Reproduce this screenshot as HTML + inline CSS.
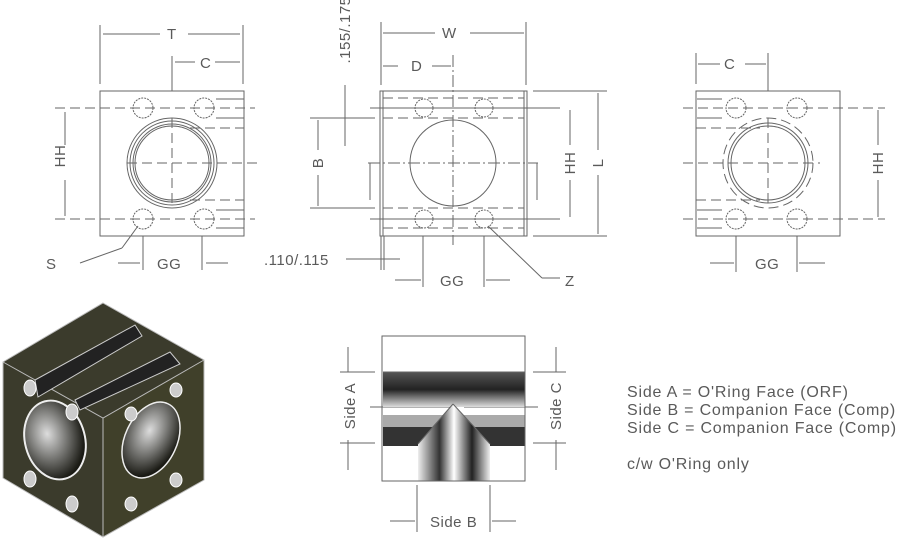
<!DOCTYPE html>
<html><head><meta charset="utf-8"><style>
html,body{margin:0;padding:0;background:#fff;}
svg{display:block;}
text{font-family:"Liberation Sans",sans-serif;fill:#5a5a5a;font-size:15px;letter-spacing:0.5px;}
.n{font-size:16px;letter-spacing:0.8px;}
</style></head><body>
<svg width="897" height="543" viewBox="0 0 897 543" xmlns="http://www.w3.org/2000/svg">
<defs>
<linearGradient id="band" x1="0" y1="0" x2="0" y2="1">
<stop offset="0" stop-color="#555"/><stop offset="0.5" stop-color="#222"/><stop offset="1" stop-color="#ddd"/></linearGradient>
<linearGradient id="vb" x1="0" y1="0" x2="1" y2="0">
<stop offset="0" stop-color="#eee"/><stop offset="0.3" stop-color="#333"/><stop offset="0.5" stop-color="#fff"/><stop offset="0.75" stop-color="#222"/><stop offset="1" stop-color="#eee"/></linearGradient>
<radialGradient id="bore" cx="0.4" cy="0.4" r="0.6"><stop offset="0" stop-color="#ddd"/><stop offset="1" stop-color="#1a1a14"/></radialGradient>
</defs>
<g stroke="#666" stroke-width="1" fill="none">
<rect x="100" y="91" width="144" height="145"/>
<line x1="100" y1="25" x2="100" y2="84"/><line x1="243" y1="25" x2="243" y2="84"/>
<line x1="103" y1="34" x2="160" y2="34"/><line x1="188" y1="34" x2="240" y2="34"/>
<line x1="172" y1="56" x2="172" y2="91"/><line x1="175" y1="62" x2="195" y2="62"/><line x1="215" y1="62" x2="240" y2="62"/>
<g stroke-dasharray="10,5"><line x1="55" y1="108" x2="255" y2="108"/><line x1="55" y1="219" x2="255" y2="219"/><line x1="127" y1="163" x2="258" y2="163"/><line x1="172" y1="118" x2="172" y2="205"/>
<line x1="190" y1="128" x2="244" y2="128"/><line x1="190" y1="200" x2="244" y2="200"/></g>
<circle cx="172" cy="163" r="45"/><circle cx="172" cy="163" r="42"/><circle cx="172" cy="163" r="39"/><circle cx="172" cy="163" r="37"/>
<circle cx="143" cy="108" r="10" stroke-dasharray="2,1"/><circle cx="204" cy="108" r="10" stroke-dasharray="2,1"/><circle cx="143" cy="219" r="10" stroke-dasharray="2,1"/><circle cx="204" cy="219" r="10" stroke-dasharray="2,1"/>
<path d="M216 99H244M216 118H244M216 210H244M216 228H244"/>
<line x1="65" y1="112" x2="65" y2="145"/><line x1="65" y1="180" x2="65" y2="216"/>
<line x1="80" y1="263" x2="122" y2="248"/><line x1="122" y1="248" x2="138" y2="226"/>
<line x1="143" y1="236" x2="143" y2="270"/><line x1="202" y1="236" x2="202" y2="270"/>
<line x1="118" y1="263" x2="140" y2="263"/><line x1="206" y1="263" x2="228" y2="263"/>
<rect x="380" y="91" width="147" height="145"/><rect x="383" y="91" width="141" height="145"/>
<line x1="381" y1="22" x2="381" y2="85"/><line x1="526" y1="22" x2="526" y2="85"/>
<line x1="383" y1="33" x2="435" y2="33"/><line x1="470" y1="33" x2="524" y2="33"/>
<line x1="383" y1="66" x2="398" y2="66"/><line x1="432" y1="66" x2="451" y2="66"/>
<g stroke-dasharray="10,5"><path d="M383 98H524M383 118H524M383 208H524M383 228H524"/></g>
<g stroke-dasharray="12,3,2,3"><line x1="453" y1="55" x2="453" y2="245"/><line x1="368" y1="163" x2="538" y2="163"/></g>
<line x1="370" y1="108" x2="560" y2="108"/><line x1="370" y1="219" x2="560" y2="219"/>
<circle cx="453" cy="163" r="43"/>
<circle cx="424" cy="108" r="9" stroke-dasharray="2,1"/><circle cx="484" cy="108" r="9" stroke-dasharray="2,1"/><circle cx="424" cy="219" r="9" stroke-dasharray="2,1"/><circle cx="484" cy="219" r="9" stroke-dasharray="2,1"/>
<line x1="370" y1="163" x2="370" y2="200"/><line x1="537" y1="163" x2="537" y2="200"/>
<line x1="310" y1="118" x2="375" y2="118"/><line x1="310" y1="208" x2="375" y2="208"/>
<line x1="318" y1="120" x2="318" y2="150"/><line x1="318" y1="175" x2="318" y2="206"/>
<line x1="345" y1="85" x2="345" y2="146"/>
<line x1="533" y1="91" x2="607" y2="91"/><line x1="533" y1="236" x2="607" y2="236"/>
<line x1="570" y1="110" x2="570" y2="145"/><line x1="570" y1="180" x2="570" y2="217"/>
<line x1="598" y1="93" x2="598" y2="150"/><line x1="598" y1="175" x2="598" y2="234"/>
<line x1="381" y1="236" x2="381" y2="270"/><line x1="384" y1="236" x2="384" y2="270"/>
<line x1="346" y1="259" x2="400" y2="259"/>
<line x1="423" y1="236" x2="423" y2="287"/><line x1="484" y1="236" x2="484" y2="287"/>
<line x1="395" y1="280" x2="421" y2="280"/><line x1="486" y1="280" x2="510" y2="280"/>
<line x1="488" y1="226" x2="542" y2="278"/><line x1="542" y1="278" x2="560" y2="278"/>
<rect x="696" y="91" width="144" height="145"/>
<line x1="696" y1="53" x2="696" y2="84"/><line x1="768" y1="53" x2="768" y2="91"/>
<line x1="698" y1="64" x2="720" y2="64"/><line x1="745" y1="64" x2="766" y2="64"/>
<g stroke-dasharray="10,5"><line x1="683" y1="108" x2="885" y2="108"/><line x1="683" y1="219" x2="885" y2="219"/><line x1="683" y1="163" x2="820" y2="163"/><line x1="768" y1="118" x2="768" y2="205"/>
<line x1="696" y1="128" x2="760" y2="128"/><line x1="696" y1="200" x2="760" y2="200"/><circle cx="768" cy="163" r="45"/></g>
<circle cx="768" cy="163" r="40"/><circle cx="768" cy="163" r="37"/>
<circle cx="736" cy="108" r="10" stroke-dasharray="2,1"/><circle cx="797" cy="108" r="10" stroke-dasharray="2,1"/><circle cx="736" cy="219" r="10" stroke-dasharray="2,1"/><circle cx="797" cy="219" r="10" stroke-dasharray="2,1"/>
<path d="M697 99H722M697 118H722M697 210H722M697 228H722"/>
<line x1="878" y1="110" x2="878" y2="145"/><line x1="878" y1="180" x2="878" y2="217"/>
<line x1="736" y1="236" x2="736" y2="272"/><line x1="797" y1="236" x2="797" y2="272"/>
<line x1="710" y1="263" x2="734" y2="263"/><line x1="799" y1="263" x2="825" y2="263"/>
<line x1="348" y1="347" x2="348" y2="372"/><line x1="348" y1="440" x2="348" y2="470"/>
<line x1="340" y1="372" x2="375" y2="372"/><line x1="340" y1="443" x2="375" y2="443"/>
<line x1="556" y1="347" x2="556" y2="372"/><line x1="556" y1="440" x2="556" y2="470"/>
<line x1="533" y1="372" x2="566" y2="372"/><line x1="533" y1="443" x2="566" y2="443"/>
<line x1="370" y1="407" x2="450" y2="407"/><line x1="464" y1="407" x2="538" y2="407"/>
<line x1="417" y1="485" x2="417" y2="532"/><line x1="490" y1="485" x2="490" y2="532"/>
<line x1="390" y1="521" x2="415" y2="521"/><line x1="492" y1="521" x2="516" y2="521"/>
</g>
<rect x="383" y="372" width="142" height="35" fill="url(#band)"/>
<rect x="383" y="427" width="142" height="19" fill="#333"/>
<rect x="383" y="415" width="142" height="12" fill="#aaa"/>
<polygon points="453,404 418,444 418,481 490,481 490,444" fill="url(#vb)"/>
<rect x="383" y="446" width="35" height="35" fill="#fff"/><rect x="490" y="446" width="35" height="35" fill="#fff"/>
<g stroke="#666" fill="none"><rect x="382" y="336" width="143" height="145"/><line x1="383" y1="372" x2="525" y2="372"/><line x1="453" y1="404" x2="418" y2="444"/><line x1="453" y1="404" x2="490" y2="444"/></g>
<polygon points="103,303 204,360 204,480 103,537 3,478 3,362" fill="#3b3b2c"/>
<polygon points="103,418 204,360 204,480 103,537" fill="#40402a"/>
<g stroke="#bbb" fill="none" stroke-width="1"><path d="M103,303 204,360 204,480 103,537 3,478 3,362Z M3,362 103,418 204,360 M103,418 103,537"/></g>
<g fill="#222" stroke="#ccc"><path d="M35,380 L135,325 L142,336 L38,397Z"/><path d="M75,400 L170,352 L180,364 L80,410Z"/></g>
<ellipse cx="55" cy="440" rx="30" ry="40" transform="rotate(-15 55 440)" fill="url(#bore)" stroke="#eee" stroke-width="2"/>
<ellipse cx="151" cy="440" rx="26" ry="40" transform="rotate(25 151 440)" fill="url(#bore)" stroke="#eee" stroke-width="1.5"/>
<g fill="#ccc" stroke="#fff"><ellipse cx="30" cy="388" rx="6" ry="8"/><ellipse cx="72" cy="412" rx="6" ry="8"/><ellipse cx="30" cy="479" rx="6" ry="8"/><ellipse cx="72" cy="504" rx="6" ry="8"/>
<ellipse cx="176" cy="390" rx="6" ry="7"/><ellipse cx="131" cy="414" rx="6" ry="7"/><ellipse cx="176" cy="480" rx="6" ry="7"/><ellipse cx="131" cy="504" rx="6" ry="7"/></g>
<text x="167" y="39">T</text><text x="200" y="68">C</text>
<text x="72" y="163" transform="rotate(-90 65 163)" text-anchor="middle">HH</text>
<text x="46" y="269">S</text><text x="157" y="269">GG</text>
<text x="442" y="38">W</text><text x="411" y="71">D</text>
<text x="355" y="35" transform="rotate(-90 350 35)" text-anchor="middle">.155/.175</text>
<text x="323" y="163" transform="rotate(-90 323 163)" text-anchor="middle">B</text>
<text x="575" y="163" transform="rotate(-90 575 163)" text-anchor="middle">HH</text>
<text x="603" y="163" transform="rotate(-90 603 163)" text-anchor="middle">L</text>
<text x="264" y="265">.110/.115</text><text x="440" y="286">GG</text><text x="565" y="286">Z</text>
<text x="724" y="69">C</text><text x="883" y="163" transform="rotate(-90 883 163)" text-anchor="middle">HH</text><text x="755" y="269">GG</text>
<text x="355" y="406" transform="rotate(-90 355 406)" text-anchor="middle">Side A</text>
<text x="561" y="406" transform="rotate(-90 561 406)" text-anchor="middle">Side C</text>
<text x="430" y="527">Side B</text>
<text class="n" x="627" y="397">Side A = O'Ring Face (ORF)</text>
<text class="n" x="627" y="415">Side B = Companion Face (Comp)</text>
<text class="n" x="627" y="433">Side C = Companion Face (Comp)</text>
<text class="n" x="627" y="469">c/w O'Ring only</text>
</svg>
</body></html>
